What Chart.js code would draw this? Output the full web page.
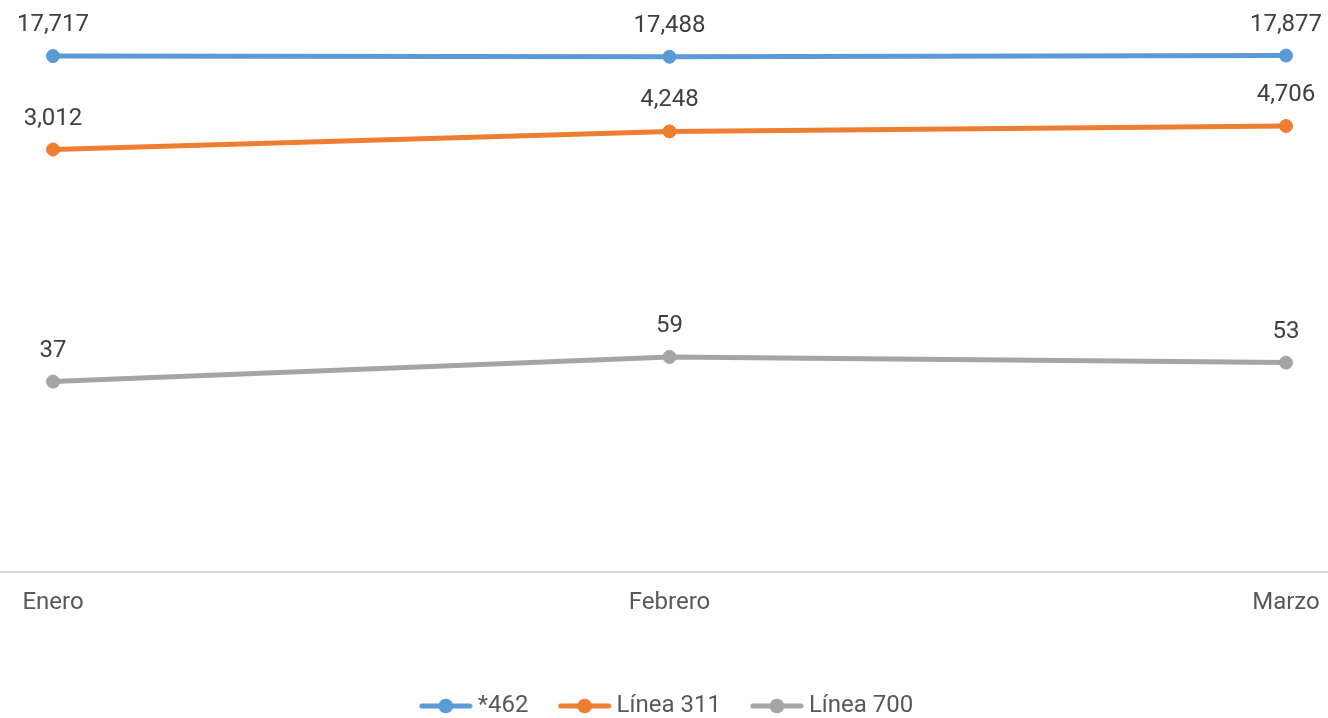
<!DOCTYPE html>
<html>
<head>
<meta charset="utf-8">
<script src="https://cdn.jsdelivr.net/npm/chart.js@4/dist/chart.umd.min.js"></script>
<style>
html,body{margin:0;padding:0;background:#fff;}
#wrap{width:1328px;height:718px;position:relative;}
</style>
</head>
<body>
<div id="wrap"><canvas id="c" width="1328" height="718"></canvas></div>
<script>
const categories = ['Enero', 'Febrero', 'Marzo'];
const seriesNames = ['*462', 'Línea 311', 'Línea 700'];
const values462 = [17717, 17488, 17877];
const values311 = [3012, 4248, 4706];
const values700 = [37, 59, 53];
const colors = ['#5B9BD5', '#ED7D31', '#A5A5A5'];

function legendIcon(color) {
  const c = document.createElement('canvas');
  c.width = 54; c.height = 16;
  const g = c.getContext('2d');
  g.strokeStyle = color; g.lineWidth = 5; g.lineCap = 'round';
  g.beginPath(); g.moveTo(3, 8); g.lineTo(51, 8); g.stroke();
  g.fillStyle = color;
  g.beginPath(); g.arc(27, 8, 7.3, 0, Math.PI * 2); g.fill();
  return c;
}
const icons = colors.map(legendIcon);

const fullAxisLine = {
  id: 'fullAxisLine',
  beforeDatasetsDraw(chart) {
    const ctx = chart.ctx;
    const y = chart.chartArea.bottom;
    ctx.save();
    ctx.strokeStyle = '#D9D9D9';
    ctx.lineWidth = 2;
    ctx.beginPath();
    ctx.moveTo(0, y);
    ctx.lineTo(chart.width, y);
    ctx.stroke();
    ctx.restore();
  }
};

const shiftLegend = {
  id: 'shiftLegend',
  afterLayout(chart) {
    if (chart.legend) {
      chart.legend.top += 10;
      chart.legend.bottom += 10;
    }
  }
};

const dataLabels = {
  id: 'dataLabels',
  afterDatasetsDraw(chart) {
    const ctx = chart.ctx;
    ctx.save();
    ctx.font = '24px Roboto';
    ctx.fillStyle = '#404040';
    ctx.textAlign = 'center';
    ctx.textBaseline = 'alphabetic';
    chart.data.datasets.forEach((ds, i) => {
      const meta = chart.getDatasetMeta(i);
      meta.data.forEach((pt, j) => {
        ctx.fillText(ds.data[j].toLocaleString('en-US'), pt.x, pt.y - 25);
      });
    });
    ctx.restore();
  }
};

const allValues = [values462, values311, values700];

new Chart(document.getElementById('c'), {
  type: 'line',
  data: {
    labels: categories,
    datasets: seriesNames.map((name, i) => ({
      label: name,
      data: allValues[i],
      borderColor: colors[i],
      backgroundColor: colors[i],
      borderWidth: 5,
      pointRadius: 6.5,
      pointBorderWidth: 1,
      pointBackgroundColor: colors[i],
      pointBorderColor: colors[i],
      tension: 0,
      fill: false
    }))
  },
  options: {
    responsive: false,
    animation: false,
    layout: { padding: { left: 53, right: 42, top: 0, bottom: 0 } },
    plugins: {
      tooltip: { enabled: false },
      legend: {
        position: 'bottom',
        labels: {
          usePointStyle: true,
          pointStyleWidth: 40,
          padding: 36,
          color: '#595959',
          font: { family: 'Roboto', size: 24 },
          generateLabels(chart) {
            const items = Chart.defaults.plugins.legend.labels.generateLabels(chart);
            items.forEach((it, i) => { it.pointStyle = icons[i]; });
            return items;
          }
        }
      }
    },
    scales: {
      x: {
        offset: false,
        grid: { display: false, drawTicks: false },
        border: { display: false },
        ticks: { color: '#595959', font: { family: 'Roboto', size: 24 }, padding: 17, maxRotation: 0 },
        afterFit(scale) { scale.height = 76; scale.paddingLeft = 0; scale.paddingRight = 0; }
      },
      y: {
        type: 'logarithmic',
        display: false,
        min: 1,
        max: 44500
      }
    }
  },
  plugins: [fullAxisLine, dataLabels, shiftLegend]
});
</script>
</body>
</html>
